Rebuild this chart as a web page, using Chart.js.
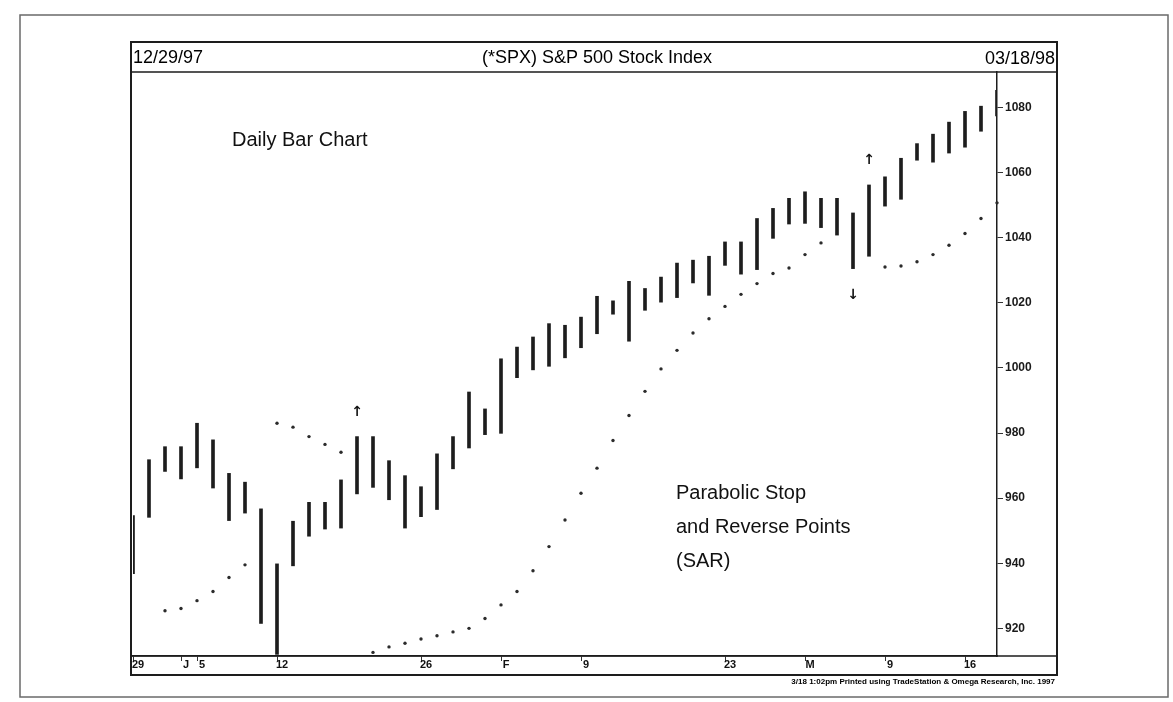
<!DOCTYPE html>
<html>
<head>
<meta charset="utf-8">
<title>S&amp;P 500 Daily Bar Chart with Parabolic SAR</title>
<script src="https://cdn.jsdelivr.net/npm/chart.js@4.4.0/dist/chart.umd.min.js"></script>
<style>
  html, body { margin: 0; padding: 0; background: #fff; }
  #wrap { width: 1173px; height: 702px; }
</style>
</head>
<body>
<div id="wrap"><canvas id="spx" width="1173" height="702"></canvas></div>
<script>
// trading days, 12/29/97 through 03/18/98
const dates = [
  '12/29', '12/30', '12/31', '1/2', '1/5', '1/6', '1/7', '1/8', '1/9', '1/12',
  '1/13', '1/14', '1/15', '1/16', '1/20', '1/21', '1/22', '1/23', '1/26', '1/27',
  '1/28', '1/29', '1/30', '2/2', '2/3', '2/4', '2/5', '2/6', '2/9', '2/10',
  '2/11', '2/12', '2/13', '2/17', '2/18', '2/19', '2/20', '2/23', '2/24', '2/25',
  '2/26', '2/27', '3/2', '3/3', '3/4', '3/5', '3/6', '3/9', '3/10', '3/11',
  '3/12', '3/13', '3/16', '3/17', '3/18'
];

const highs = [
  954.6, 971.8, 975.8, 975.8, 983.0, 977.9, 967.6, 964.9, 956.7, 939.8,
  952.9, 958.7, 958.7, 965.6, 978.9, 978.9, 971.5, 966.9, 963.5, 973.6,
  978.9, 992.6, 987.4, 1002.8, 1006.4, 1009.5, 1013.6, 1013.1, 1015.6, 1022.0,
  1020.6, 1026.6, 1024.4, 1027.9, 1032.2, 1033.1, 1034.3, 1038.7, 1038.7, 1045.9,
  1049.0, 1052.1, 1054.1, 1052.1, 1052.1, 1047.6, 1056.2, 1058.7, 1064.4, 1068.9,
  1071.8, 1075.5, 1078.8, 1080.4, 1085.3
];

const lows = [
  936.8, 954.1, 968.2, 965.9, 969.3, 963.1, 953.1, 955.4, 921.5, 912.0,
  939.2, 948.3, 950.5, 950.8, 961.3, 963.3, 959.5, 950.8, 954.3, 956.5,
  969.0, 975.4, 979.5, 979.9, 997.0, 999.4, 1000.5, 1003.1, 1006.2, 1010.5,
  1016.5, 1008.2, 1017.7, 1020.2, 1021.6, 1026.1, 1022.3, 1031.5, 1028.8, 1030.2,
  1039.8, 1044.2, 1044.4, 1043.1, 1040.8, 1030.5, 1034.3, 1049.7, 1051.8, 1063.8,
  1063.2, 1066.0, 1067.8, 1072.7, 1077.4
];

// parabolic stop-and-reverse points (null where none is plotted)
const sar = [
  null, null, 925.4, 926.1, 928.5, 931.3, 935.6, 939.5, null, 983.0,
  981.8, 978.9, 976.5, 974.1, null, 912.6, 914.3, 915.4, 916.7, 917.7,
  918.9, 920.0, 923.0, 927.2, 931.3, 937.7, 945.1, 953.3, 961.5, 969.2,
  977.7, 985.4, 992.8, 999.7, 1005.4, 1010.7, 1015.1, 1018.9, 1022.6, 1025.9,
  1029.0, 1030.7, 1034.8, 1038.4, null, null, null, 1031.0, 1031.3, 1032.6,
  1034.8, 1037.7, 1041.3, 1045.9, 1050.7
];

// reversal signals: [day index, price]
const buySignals = [[14, 986.2], [46, 1063.8]];
const sellSignals = [[45, 1022.3]];

const yTicks = [920, 940, 960, 980, 1000, 1020, 1040, 1060, 1080];
const xTickText = dates.map(() => '');
Object.assign(xTickText, { 0: '29', 3: 'J', 4: '5', 9: '12', 18: '26', 23: 'F', 28: '9', 37: '23', 42: 'M', 47: '9', 52: '16' });

const FONT = '"Liberation Sans", Arial, sans-serif';
const INK = '#1d1d1d';

const frame = {
  id: 'frame',
  beforeDraw(chart) {
    const c = chart.ctx;
    c.save();
    c.fillStyle = '#fff';
    c.fillRect(0, 0, chart.width, chart.height);
    c.restore();
  },
  afterDraw(chart) {
    const c = chart.ctx;
    const a = chart.chartArea;
    const x = chart.scales.x, y = chart.scales.y;
    const L = 131, R = 1057, T = 42, B = 675;
    c.save();

    // page border
    c.strokeStyle = '#6a6a6a';
    c.lineWidth = 1.5;
    c.strokeRect(20, 15, 1148, 682);

    // chart box, header and date strip
    c.strokeStyle = INK;
    c.lineWidth = 2;
    c.strokeRect(L, T, R - L, B - T);
    c.lineWidth = 1.5;
    c.beginPath();
    c.moveTo(L, a.top); c.lineTo(R, a.top);
    c.moveTo(L, a.bottom); c.lineTo(R, a.bottom);
    c.stroke();

    // header text
    c.fillStyle = '#000';
    c.textBaseline = 'middle';
    c.font = '18px ' + FONT;
    c.textAlign = 'left';
    c.fillText('12/29/97', 133, 58);
    c.textAlign = 'right';
    c.fillText('03/18/98', 1055, 59);
    c.textAlign = 'center';
    c.fillText('(*SPX) S&P 500 Stock Index', 597, 58);

    // footer
    c.font = 'bold 8px ' + FONT;
    c.textAlign = 'right';
    c.fillText('3/18 1:02pm Printed using TradeStation & Omega Research, Inc. 1997', 1055, 682);

    // annotations
    c.fillStyle = '#111';
    c.font = '20px ' + FONT;
    c.textAlign = 'left';
    c.fillText('Daily Bar Chart', 232, 140);
    c.fillText('Parabolic Stop', 676, 493);
    c.fillText('and Reverse Points', 676, 527);
    c.fillText('(SAR)', 676, 561);

    // reversal arrows
    c.font = 'bold 14px "DejaVu Sans", sans-serif';
    c.textAlign = 'center';
    buySignals.forEach(([i, v]) => c.fillText('↑', x.getPixelForValue(i), y.getPixelForValue(v)));
    sellSignals.forEach(([i, v]) => c.fillText('↓', x.getPixelForValue(i), y.getPixelForValue(v)));
    c.restore();
  }
};

new Chart(document.getElementById('spx'), {
  type: 'bar',
  data: {
    labels: dates,
    datasets: [
      {
        type: 'bar',
        label: 'High-Low',
        data: highs.map((h, i) => [lows[i], h]),
        backgroundColor: INK,
        borderWidth: 0,
        barThickness: 3
      },
      {
        type: 'line',
        label: 'SAR',
        data: sar,
        showLine: false,
        pointRadius: 1.7,
        pointBorderWidth: 0,
        pointBackgroundColor: '#2b2b2b'
      }
    ]
  },
  options: {
    responsive: false,
    animation: false,
    devicePixelRatio: 1,
    layout: { padding: { left: 133, top: 72, right: 116, bottom: 27 } },
    plugins: { legend: { display: false }, tooltip: { enabled: false } },
    scales: {
      x: {
        type: 'category',
        offset: false,
        grid: {
          offset: false,
          drawOnChartArea: false,
          tickLength: 5,
          color: ctx => xTickText[ctx.index] ? '#333' : 'rgba(0,0,0,0)'
        },
        border: { color: INK, width: 1.5 },
        ticks: {
          autoSkip: false,
          maxRotation: 0,
          padding: -3,
          labelOffset: 5,
          color: '#111',
          font: { family: FONT, size: 11, weight: 'bold' },
          callback: (v, i) => xTickText[i]
        },
        afterFit: s => { s.height = 19; }
      },
      y: {
        position: 'right',
        min: 911.5,
        max: 1090.9,
        afterBuildTicks: s => { s.ticks = yTicks.map(v => ({ value: v })); },
        grid: { drawOnChartArea: false, tickLength: 6, color: '#333' },
        border: { color: INK, width: 1.5 },
        ticks: {
          padding: 2,
          color: '#1a1a1a',
          font: { family: FONT, size: 12, weight: 'bold' },
          callback: v => String(v)
        },
        afterFit: s => { s.width = 60; }
      }
    }
  },
  plugins: [frame]
});
</script>
</body>
</html>
